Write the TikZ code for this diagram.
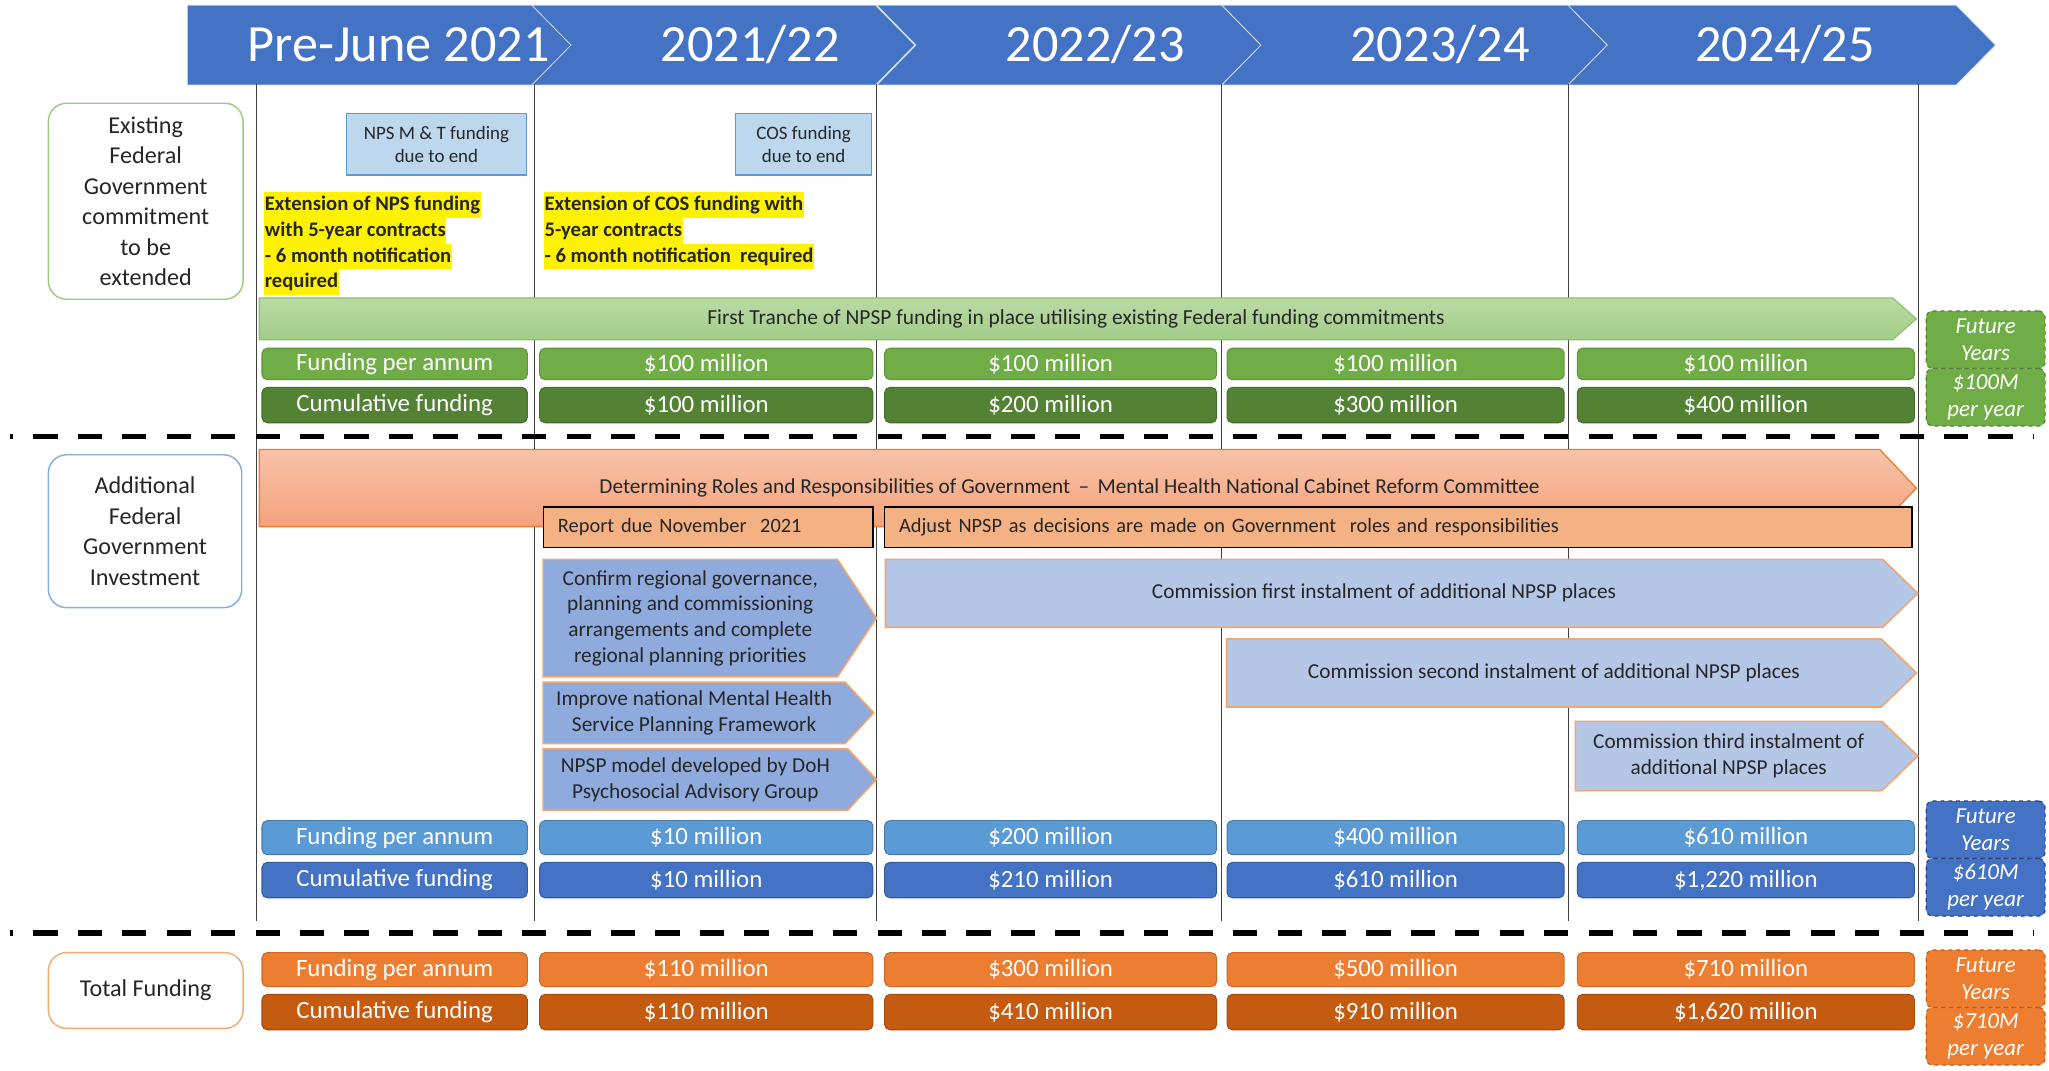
\documentclass[tikz,border=0pt]{standalone}
\usepackage{fontspec}
\setmainfont{Carlito}
\usetikzlibrary{shapes.symbols}

\definecolor{hdrblue}{HTML}{4472C4}
\definecolor{txt}{HTML}{262626}
\definecolor{grnline}{HTML}{9CCB7E}
\definecolor{bluline}{HTML}{7FB0E0}
\definecolor{orgline}{HTML}{F4A96F}
\definecolor{notefill}{HTML}{BDD7EE}
\definecolor{notebd}{HTML}{5B9BD5}
\definecolor{gpa}{HTML}{70AD47}
\definecolor{gcum}{HTML}{548235}
\definecolor{bpa}{HTML}{5B9BD5}
\definecolor{bcum}{HTML}{4472C4}
\definecolor{opa}{HTML}{ED7D31}
\definecolor{ocum}{HTML}{C55A11}
\definecolor{trtop}{HTML}{B9DBA5}
\definecolor{trbot}{HTML}{A3CC88}
\definecolor{trbd}{HTML}{8CC06B}
\definecolor{rltop}{HTML}{F7C3A8}
\definecolor{rlbot}{HTML}{F4A27C}
\definecolor{work}{HTML}{F4B183}
\definecolor{conf}{HTML}{8FAADC}
\definecolor{comm}{HTML}{B4C7E7}
\definecolor{chbd}{HTML}{F4A46C}

\tikzset{
  yearbar/.style={signal, signal to=east, signal pointer angle=91, fill=hdrblue,
    draw=white!75!hdrblue, line width=0.6pt, minimum height=61, inner sep=0pt},
  yeartext/.style={text=white, font=\fontsize{40}{40}\selectfont},
  labelbox/.style={draw, line width=1.1pt, rounded corners=14pt, fill=white,
    align=center, text=txt, font=\fontsize{18.5}{23.4}\selectfont},
  notebox/.style={draw=notebd, fill=notefill, line width=1pt, align=center,
    text=txt, font=\fontsize{14.5}{18}\selectfont},
  hilite/.style={fill=yellow, anchor=west, inner xsep=0.5pt, inner ysep=0pt,
    text height=14.2pt, text depth=5.4pt, text=txt,
    font=\bfseries\fontsize{15.8}{19.6}\selectfont},
  money/.style={rounded corners=4pt, text=white, line width=0.8pt, inner sep=0pt,
    font=\fontsize{19}{19}\selectfont},
  future/.style={rounded corners=5pt, dashed, line width=0.9pt, text=white,
    align=center, inner sep=0pt, font=\itshape\fontsize{17.5}{21}\selectfont},
  task/.style={signal, signal to=east, anchor=west, text=txt, align=center, inner sep=0pt,
    line width=1.2pt, font=\fontsize{16.3}{19.7}\selectfont},
  workbox/.style={draw=black, fill=work, line width=1.2pt, align=left, text=txt,
    inner xsep=11pt, inner ysep=0pt, font=\fontsize{15.6}{19}\selectfont},
  gridline/.style={draw=black!75, line width=0.9pt},
  sectionline/.style={draw=black, line width=4pt, dash pattern=on 18.5pt off 15.5pt,
    dash phase=16.4pt}
}

\begin{document}
\begin{tikzpicture}[x=1pt, y=-1pt]
\fill[white] (0,0) rectangle (1568,819);
\useasboundingbox (0,0) rectangle (1568,819);

% year header
\node[yearbar, signal from=nowhere, anchor=west, minimum width=294] (h1) at (143,34.5) {};
\node[yearbar, signal from=west, minimum width=293] (h2) at (553.5,34.5) {};
\node[yearbar, signal from=west, minimum width=294] (h3) at (818,34.5) {};
\node[yearbar, signal from=west, minimum width=295] (h4) at (1082.5,34.5) {};
\node[yearbar, signal from=west, minimum width=327] (h5) at (1363.5,34.5) {};
\node[yeartext] (y1) at (305,34) {Pre-June 2021};
\node[yeartext] (y2) at (574,34) {2021/22};
\node[yeartext] (y3) at (838,34) {2022/23};
\node[yeartext] (y4) at (1102,34) {2023/24};
\node[yeartext] (y5) at (1366,34) {2024/25};

% year columns
\foreach \x in {196,409,671,935,1200,1468}
  \draw[gridline] (\x,64) -- (\x,705);

% section rules
\coordinate (s1a) at (8,334);
\coordinate (s1b) at (1556,334);
\coordinate (s2a) at (8,714);
\coordinate (s2b) at (1556,714);
\draw[sectionline] (s1a) -- (s1b);
\draw[sectionline] (s2a) -- (s2b);

% row labels
\node[labelbox, draw=grnline, minimum width=149, minimum height=150] (lex) at (111.5,154)
  {Existing\\Federal\\Government\\commitment\\to be\\extended};
\node[labelbox, draw=bluline, minimum width=148, minimum height=117] (ladd) at (111,406.5)
  {Additional\\Federal\\Government\\Investment};
\node[labelbox, draw=orgline, minimum width=149, minimum height=58] (ltot) at (111.5,758)
  {Total Funding};

% existing commitments
\node[notebox, minimum width=138, minimum height=47] (npsend) at (334,110.5)
  {NPS M \& T funding\\due to end};
\node[notebox, minimum width=104, minimum height=47] (cosend) at (615,110.5)
  {COS funding\\due to end};
\node[hilite] (nx1) at (202,157) {Extension of NPS funding};
\node[hilite] (nx2) at (202,176.6) {with 5-year contracts};
\node[hilite] (nx3) at (202,196.2) {- 6 month notification};
\node[hilite] (nx4) at (202,215.8) {required};
\node[hilite] (cx1) at (416,157) {Extension of COS funding with};
\node[hilite] (cx2) at (416,176.6) {5-year contracts};
\node[hilite] (cx3) at (416,196.2) {- 6 month notification\ \ required};

\node[task, signal pointer angle=83, top color=trtop, bottom color=trbot, draw=trbd,
  line width=0.9pt, minimum width=1268, minimum height=32,
  font=\fontsize{16.4}{17}\selectfont] (tranche) at (198,244)
  {First Tranche of NPSP funding in place utilising existing Federal funding commitments};

\foreach \x/\w/\t [count=\i] in {302/203/Funding per annum,540.5/255/\$100 million,
    804/254/\$100 million,1068/258/\$100 million,1336/258/\$100 million}
  \node[money, fill=gpa, draw=gpa!85!black, minimum width=\w, minimum height=24] (gpa\i) at (\x,278.5) {\t};
\foreach \x/\w/\t [count=\i] in {302/203/Cumulative funding,540.5/255/\$100 million,
    804/254/\$200 million,1068/258/\$300 million,1336/258/\$400 million}
  \node[money, fill=gcum, draw=gcum!85!black, minimum width=\w, minimum height=27] (gcum\i) at (\x,310) {\t};
\node[future, fill=gpa, draw=gcum, minimum width=91, minimum height=44] (gfut1) at (1519.5,260) {Future\\Years};
\node[future, fill=gpa, draw=gcum, minimum width=91, minimum height=44] (gfut2) at (1519.5,304) {\$100M\\per year};

% additional investment
\node[task, signal pointer angle=93, top color=rltop, bottom color=rlbot, draw=opa,
  line width=1pt, minimum width=1268, minimum height=59] (roles) at (198,373.5)
  {Determining Roles and Responsibilities of Government \,--\, Mental Health National Cabinet Reform Committee};
\node[workbox, minimum width=252, minimum height=31, text width=230] (report) at (542,403.5)
  {Report due November\ \ 2021};
\node[workbox, minimum width=786, minimum height=31, text width=764] (adjust) at (1070,403.5)
  {Adjust NPSP as decisions are made on Government\ \ roles and responsibilities};

\node[task, signal pointer angle=113, fill=conf, draw=chbd, minimum width=255, minimum height=90] (confirm) at (415,473)
  {Confirm regional governance,\\planning and commissioning\\arrangements and complete\\regional planning priorities};
\node[task, signal pointer angle=94, fill=conf, draw=chbd, minimum width=253, minimum height=47] (improve) at (415,545.5)
  {Improve national Mental Health\\Service Planning Framework};
\node[task, signal pointer angle=94, fill=conf, draw=chbd, minimum width=255, minimum height=47] (model) at (415,596.5)
  {NPSP model developed by DoH\\Psychosocial Advisory Group};
\node[task, signal pointer angle=88, fill=comm, draw=chbd, minimum width=790, minimum height=52] (com1) at (677,454)
  {Commission first instalment of additional NPSP places};
\node[task, signal pointer angle=88, fill=comm, draw=chbd, minimum width=528, minimum height=52] (com2) at (938,515)
  {Commission second instalment of additional NPSP places};
\node[task, signal pointer angle=88, fill=comm, draw=chbd, minimum width=262, minimum height=53] (com3) at (1205,578.5)
  {Commission third instalment of\\additional NPSP places};

\foreach \x/\w/\t [count=\i] in {302/203/Funding per annum,540.5/255/\$10 million,
    804/254/\$200 million,1068/258/\$400 million,1336/258/\$610 million}
  \node[money, fill=bpa, draw=bpa!80!black, minimum width=\w, minimum height=26] (bpa\i) at (\x,641) {\t};
\foreach \x/\w/\t [count=\i] in {302/203/Cumulative funding,540.5/255/\$10 million,
    804/254/\$210 million,1068/258/\$610 million,1336/258/{\$1,220 million}}
  \node[money, fill=bcum, draw=bcum!80!black, minimum width=\w, minimum height=27] (bcum\i) at (\x,673.5) {\t};
\node[future, fill=bcum, draw=bcum!60!black, minimum width=91, minimum height=44] (bfut1) at (1519.5,635) {Future\\Years};
\node[future, fill=bcum, draw=bcum!60!black, minimum width=91, minimum height=44] (bfut2) at (1519.5,679) {\$610M\\per year};

% total funding
\foreach \x/\w/\t [count=\i] in {302/203/Funding per annum,540.5/255/\$110 million,
    804/254/\$300 million,1068/258/\$500 million,1336/258/\$710 million}
  \node[money, fill=opa, draw=opa!85!black, minimum width=\w, minimum height=26] (opa\i) at (\x,742) {\t};
\foreach \x/\w/\t [count=\i] in {302/203/Cumulative funding,540.5/255/\$110 million,
    804/254/\$410 million,1068/258/\$910 million,1336/258/{\$1,620 million}}
  \node[money, fill=ocum, draw=ocum!85!black, minimum width=\w, minimum height=27] (ocum\i) at (\x,774.5) {\t};
\node[future, fill=opa, draw=ocum, minimum width=91, minimum height=44] (ofut1) at (1519.5,749) {Future\\Years};
\node[future, fill=opa, draw=ocum, minimum width=91, minimum height=44] (ofut2) at (1519.5,793) {\$710M\\per year};
\end{tikzpicture}
\end{document}
